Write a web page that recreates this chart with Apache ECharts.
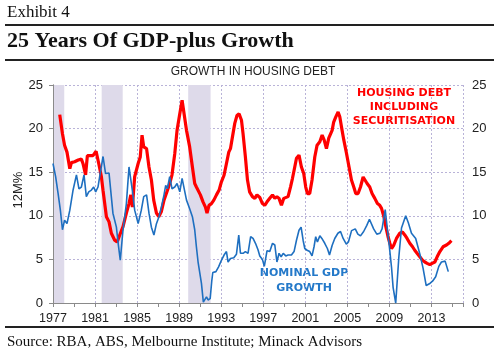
<!DOCTYPE html>
<html>
<head>
<meta charset="utf-8">
<script src="https://cdn.jsdelivr.net/npm/echarts@6/dist/echarts.min.js"></script>
<style>
html,body{margin:0;padding:0;background:#fff;}
#chart{width:499px;height:354px;}
</style>
</head>
<body>
<div id="chart"></div>
<script>
// ---- data (decimal years, % growth) ----
const startYear = 1977;
const xTickLabels = [1977,1981,1985,1989,1993,1997,2001,2005,2009,2013];
const yTicks = [0,5,10,15,20,25];
const recessions = [[1977.1,1978.07],[1981.63,1983.63],[1989.86,1991.99]];

const housingYears = [1977.64,1977.9,1978.1,1978.33,1978.6,1978.75,1979.06,1979.4,1979.7,1979.85,1980.1,1980.27,1980.5,1980.8,1981.1,1981.35,1981.6,1981.76,1982.08,1982.33,1982.55,1982.87,1983.1,1983.35,1983.66,1983.98,1984.23,1984.4,1984.55,1984.77,1985.1,1985.3,1985.47,1985.63,1985.9,1986.13,1986.36,1986.58,1986.84,1987.06,1987.31,1987.56,1987.88,1988.1,1988.32,1988.58,1988.8,1989.06,1989.28,1989.44,1989.7,1990.0,1990.26,1990.48,1990.64,1990.8,1991.02,1991.27,1991.5,1991.65,1991.84,1992.07,1992.3,1992.55,1992.8,1993.02,1993.27,1993.5,1993.72,1993.88,1994.07,1994.29,1994.5,1994.7,1994.93,1995.08,1995.3,1995.5,1995.7,1995.97,1996.2,1996.4,1996.67,1996.92,1997.14,1997.36,1997.62,1997.88,1998.1,1998.3,1998.5,1998.73,1998.95,1999.14,1999.36,1999.59,1999.78,1999.93,2000.16,2000.4,2000.63,2000.85,2001.04,2001.2,2001.42,2001.64,2001.9,2002.12,2002.38,2002.6,2002.79,2003.01,2003.23,2003.42,2003.55,2003.7,2003.9,2004.12,2004.28,2004.44,2004.66,2004.92,2005.16,2005.39,2005.61,2005.8,2006.02,2006.25,2006.5,2006.66,2006.88,2007.13,2007.35,2007.61,2007.86,2008.08,2008.25,2008.47,2008.66,2008.87,2009.04,2009.2,2009.42,2009.67,2009.99,2010.24,2010.46,2010.68,2010.94,2011.2,2011.41,2011.63,2011.89,2012.15,2012.37,2012.59,2012.84,2013.06,2013.32,2013.54,2013.8,2014.1,2014.43,2014.65,2014.9];
const housingDebt = [21.6,19.4,18.1,17.3,15.4,16.1,16.2,16.4,16.5,16.0,14.7,16.9,16.9,16.9,17.4,16.0,14.5,12.9,9.9,9.3,8.0,7.2,7.0,7.8,8.75,10.3,11.4,12.4,11.0,14.5,16.0,16.75,19.25,17.9,17.7,15.6,14.1,11.8,10.3,9.9,10.5,11.8,12.9,13.7,14.7,17.1,19.8,21.7,23.25,23.1,19.8,17.9,15.6,13.7,13.3,13.1,12.4,11.6,11.0,10.3,11.2,11.4,11.8,12.4,12.95,13.9,14.65,16.0,17.3,17.7,19.05,20.6,21.5,21.7,20.95,19.4,16.75,14.1,12.75,12.2,12.0,12.4,12.1,11.4,11.2,11.6,12.0,12.4,12.0,12.2,12.0,11.2,12.0,12.2,12.2,13.3,14.3,15.2,16.6,16.95,15.6,14.85,13.3,12.55,12.55,14.1,16.75,18.1,18.5,19.25,18.7,17.7,18.9,19.05,19.8,20.75,21.35,21.9,21.35,20.2,18.7,17.15,15.6,14.1,13.3,12.55,12.55,13.3,14.45,14.3,13.7,13.3,12.55,12.0,11.4,11.2,10.85,9.9,8.75,7.6,6.85,6.25,6.65,7.4,8.0,8.15,7.8,7.4,6.85,6.45,6.05,5.7,5.3,4.9,4.7,4.55,4.4,4.55,4.7,5.3,5.9,6.45,6.65,6.85,7.15];

const gdpYears = [1977.0,1977.25,1977.48,1977.7,1977.9,1978.1,1978.33,1978.6,1978.9,1979.23,1979.47,1979.7,1979.95,1980.17,1980.4,1980.65,1980.87,1981.06,1981.28,1981.44,1981.76,1982.0,1982.33,1982.5,1982.7,1983.03,1983.2,1983.4,1983.66,1983.98,1984.23,1984.4,1984.55,1984.77,1985.1,1985.4,1985.63,1985.9,1986.13,1986.36,1986.6,1986.84,1987.08,1987.31,1987.56,1987.72,1987.88,1988.1,1988.32,1988.58,1988.8,1989.06,1989.28,1989.44,1989.7,1990.0,1990.26,1990.48,1990.64,1990.8,1990.96,1991.12,1991.3,1991.45,1991.6,1991.75,1991.95,1992.1,1992.2,1992.5,1992.75,1993.02,1993.27,1993.5,1993.65,1993.88,1994.2,1994.45,1994.67,1994.83,1995.08,1995.3,1995.55,1995.8,1996.03,1996.26,1996.5,1996.67,1996.92,1997.1,1997.36,1997.62,1997.88,1998.1,1998.3,1998.5,1998.7,1998.9,1999.14,1999.36,1999.68,1999.93,2000.16,2000.4,2000.6,2000.79,2000.95,2001.17,2001.42,2001.64,2001.83,2001.99,2002.15,2002.38,2002.63,2002.85,2003.1,2003.3,2003.55,2003.8,2004.1,2004.35,2004.6,2004.9,2005.1,2005.4,2005.75,2006.0,2006.25,2006.55,2006.85,2007.1,2007.25,2007.5,2007.8,2008.1,2008.3,2008.6,2008.85,2009.0,2009.2,2009.35,2009.6,2009.9,2010.15,2010.55,2010.8,2011.1,2011.5,2011.9,2012.2,2012.5,2012.8,2013.1,2013.4,2013.7,2013.95,2014.3,2014.6];
const nominalGdp = [16.0,14.5,12.6,10.65,8.4,9.5,9.1,10.65,12.9,14.7,13.1,13.3,14.7,12.2,12.75,12.95,13.3,12.75,13.3,14.5,16.8,14.85,14.9,15.0,10.3,8.7,6.8,4.9,8.4,11.4,15.6,15.8,12.9,10.65,9.1,10.65,12.2,12.4,10.3,8.7,7.8,9.1,9.9,11.0,12.4,13.5,13.1,14.5,13.1,13.3,13.7,12.75,14.3,14.5,11.8,10.8,9.9,8.4,6.45,4.7,4.55,2.25,0.1,0.05,0.7,0.35,0.5,2.5,3.5,3.6,4.15,4.9,5.5,5.9,4.7,5.1,5.2,5.6,7.8,5.7,5.7,5.9,5.7,7.6,7.4,6.85,6.1,5.4,5.0,4.2,6.0,5.9,6.85,6.65,4.7,5.7,5.3,5.7,5.4,5.5,5.5,5.9,7.2,8.35,8.7,7.2,6.25,6.05,5.9,5.4,6.45,7.6,7.0,7.7,7.3,6.85,6.25,5.5,6.6,7.4,8.0,8.2,7.4,6.75,7.0,8.3,8.5,7.9,7.7,8.2,8.9,9.6,9.8,8.5,7.9,8.0,8.5,10.7,8.0,6.4,4.1,1.8,0.0,5.3,8.6,10.0,9.2,8.0,7.4,5.6,4.0,2.0,2.2,2.5,3.0,4.2,4.7,4.8,3.6,2.7];

// ---- build ----
const off = y => +(y - startYear).toFixed(3);
const housingData = housingYears.map((y,i)=>[off(y), housingDebt[i]]);
const gdpData = gdpYears.map((y,i)=>[off(y), nominalGdp[i]]);
const bands = recessions.map(r=>[{xAxis: off(r[0])},{xAxis: off(r[1])}]);

const sans = 'Liberation Sans, Arial, sans-serif';
const annot = '"DejaVu Sans", Verdana, sans-serif';
const serif = 'Liberation Serif, Times New Roman, serif';
const gridColor = '#b9b3d8';
const axisColor = '#8a8a8a';

const chart = echarts.init(document.getElementById('chart'), null, {renderer:'canvas'});
chart.setOption({
  animation:false,
  backgroundColor:'#fff',
  grid:{left:53, right:36, top:85, bottom:51, containLabel:false},
  xAxis:[
    {type:'value', min:0, max:39, interval:2,
     axisLine:{show:true, lineStyle:{color:axisColor, width:1}},
     axisTick:{show:true, length:4, lineStyle:{color:axisColor}},
     axisLabel:{show:false}, splitLine:{show:false}},
    {type:'value', min:0, max:39, interval:4, position:'bottom',
     axisLine:{show:false}, axisTick:{show:false},
     axisLabel:{show:true, margin:9, fontFamily:sans, fontSize:12.5, color:'#222',
       formatter:v=>{const yr=v+startYear; return xTickLabels.indexOf(yr)>=0?String(yr):'';}},
     splitLine:{show:true, lineStyle:{color:gridColor, type:[2,2], width:1}}}
  ],
  yAxis:[
    {type:'value', min:0, max:25, interval:5, position:'left',
     axisLine:{show:true, lineStyle:{color:axisColor}},
     axisTick:{show:true, length:4, lineStyle:{color:axisColor}},
     axisLabel:{margin:10, fontFamily:sans, fontSize:13, color:'#222',
       formatter:v=>yTicks.indexOf(v)>=0?String(v):''},
     splitLine:{show:true, lineStyle:{color:gridColor, type:[2,2], width:1}}},
    {type:'value', min:0, max:25, interval:5, position:'right',
     axisLine:{show:true, lineStyle:{color:axisColor}},
     axisTick:{show:true, length:4, lineStyle:{color:axisColor}},
     axisLabel:{margin:9, fontFamily:sans, fontSize:13, color:'#222',
       formatter:v=>yTicks.indexOf(v)>=0?String(v):''},
     splitLine:{show:false}}
  ],
  series:[
    {type:'line', name:'bands', xAxisIndex:0, yAxisIndex:0, data:[], silent:true,
     markArea:{silent:true, itemStyle:{color:'#dedaea'}, data:bands}},
    {type:'line', name:'Housing debt', xAxisIndex:0, yAxisIndex:0, data:housingData,
     showSymbol:false, lineStyle:{color:'#ff0000', width:3.2}, itemStyle:{color:'#ff0000'}, z:3},
    {type:'line', name:'Nominal GDP', xAxisIndex:0, yAxisIndex:0, data:gdpData,
     showSymbol:false, lineStyle:{color:'#1e6fc0', width:1.6}, itemStyle:{color:'#1e6fc0'}, z:4}
  ],
  graphic:[
    {type:'text', left:7, top:4, style:{text:'Exhibit 4', font:'17px '+serif, fill:'#111'}},
    {type:'rect', shape:{x:5, y:24, width:489, height:2}, style:{fill:'#222'}},
    {type:'text', left:7, top:30, style:{text:'25 Years Of GDP-plus Growth', font:'bold 22px '+serif, fill:'#111'}},
    {type:'rect', shape:{x:5, y:59, width:489, height:2}, style:{fill:'#222'}},
    {type:'text', x:253, y:72, style:{text:'GROWTH IN HOUSING DEBT', font:'12px '+sans, fill:'#222', align:'center', verticalAlign:'middle'}},
    {type:'text', x:18, y:190, rotation:Math.PI/2, style:{text:'12M%', font:'13px '+sans, fill:'#222', align:'center', verticalAlign:'middle'}},
    {type:'text', x:404, y:93, style:{text:'HOUSING DEBT', font:'bold 11px '+annot, fill:'#ff0000', align:'center', verticalAlign:'middle'}},
    {type:'text', x:404, y:107, style:{text:'INCLUDING', font:'bold 11px '+annot, fill:'#ff0000', align:'center', verticalAlign:'middle'}},
    {type:'text', x:404, y:121, style:{text:'SECURITISATION', font:'bold 11px '+annot, fill:'#ff0000', align:'center', verticalAlign:'middle'}},
    {type:'text', x:304, y:273, style:{text:'NOMINAL GDP', font:'bold 11px '+annot, fill:'#2479c9', align:'center', verticalAlign:'middle'}},
    {type:'text', x:304, y:288, style:{text:'GROWTH', font:'bold 11px '+annot, fill:'#2479c9', align:'center', verticalAlign:'middle'}},
    {type:'rect', shape:{x:5, y:326, width:489, height:2}, style:{fill:'#222'}},
    {type:'text', left:7, top:335, style:{text:'Source: RBA, ABS, Melbourne Institute; Minack Advisors', font:'15px '+serif, fill:'#111'}}
  ]
});
</script>
</body>
</html>
